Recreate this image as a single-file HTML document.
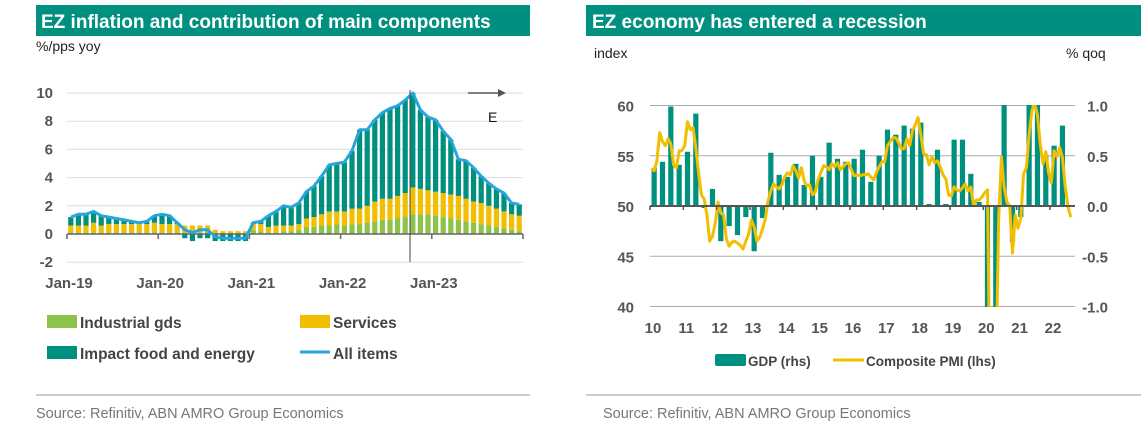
<!DOCTYPE html>
<html><head><meta charset="utf-8">
<style>
html,body{margin:0;padding:0;width:1145px;height:426px;background:#fff;overflow:hidden;font-family:"Liberation Sans",Arial,sans-serif;}
svg{position:absolute;left:0;top:0;display:block}
</style></head>
<body>
<svg id="s" width="1145" height="426">
<rect x="36" y="5" width="494" height="31" fill="#00907f"/>
<text x="41" y="28" fill="#fff" font-size="19" font-weight="bold">EZ inflation and contribution of main components</text>
<rect x="586" y="5" width="555" height="31" fill="#00907f"/>
<text x="592" y="28" fill="#fff" font-size="19" font-weight="bold">EZ economy has entered a recession</text>
<text x="36" y="51" font-size="14" fill="#222">%/pps yoy</text>
<text x="594" y="58" font-size="14" fill="#222">index</text>
<text x="1066" y="58" font-size="14" fill="#222">% qoq</text>
<line x1="36" y1="395" x2="530" y2="395" stroke="#bbb" stroke-width="1.5"/>
<line x1="586" y1="395" x2="1141" y2="395" stroke="#bbb" stroke-width="1.5"/>
<text x="36" y="418" font-size="14.5" fill="#777">Source: Refinitiv, ABN AMRO Group Economics</text>
<text x="603" y="418" font-size="14.5" fill="#777">Source:  Refinitiv, ABN AMRO Group Economics</text>
<clipPath id="rc"><rect x="645" y="105" width="435" height="202"/></clipPath>
<g id="L"></g><g id="R"></g>
</svg>
<script>
// ---- Left chart data ----
const total=[1.2,1.4,1.4,1.6,1.3,1.2,1.1,1.0,0.9,0.8,0.9,1.3, 1.4,1.3,0.8,0.3,0.1,0.3,0.3,-0.2,-0.3,-0.3,-0.3,-0.3, 0.8,0.9,1.3,1.6,2.0,1.9,2.2,3.0,3.4,4.1,4.9,5.0, 5.1,5.9,7.4,7.4,8.1,8.6,8.9,9.1,9.5,10.0,8.8,8.3, 8.1,7.3,6.7,5.3,5.2,4.7,4.1,3.6,3.2,2.9,2.2,2.1];
const indGoods=[0.1,0.1,0.1,0.1,0.1,0.1,0.1,0.1,0.1,0.1,0.1,0.1, 0.1,0.1,0.1,0.1,0.1,0.1,0.2,0.0,0.0,0.0,0.0,0.0, 0.3,0.2,0.1,0.1,0.2,0.2,0.3,0.5,0.5,0.6,0.6,0.7, 0.6,0.7,0.7,0.8,0.9,1.0,1.0,1.1,1.2,1.4,1.4,1.4, 1.3,1.2,1.1,1.0,0.9,0.8,0.7,0.6,0.5,0.4,0.3,0.2];
const services=[0.5,0.5,0.5,0.7,0.5,0.6,0.6,0.6,0.6,0.6,0.6,0.7, 0.6,0.6,0.6,0.5,0.5,0.5,0.4,0.3,0.2,0.2,0.2,0.2, 0.4,0.5,0.4,0.5,0.4,0.4,0.4,0.6,0.7,0.8,1.0,0.9, 1.0,1.1,1.1,1.2,1.4,1.5,1.5,1.6,1.7,1.9,1.8,1.7, 1.7,1.7,1.7,1.7,1.6,1.5,1.5,1.4,1.3,1.2,1.1,1.1];
const leftTicks=[10,8,6,4,2,0,-2];
const leftXLabels=["Jan-19","Jan-20","Jan-21","Jan-22","Jan-23"];
// ---- Right chart data ----
const gdp=[0.38,0.44,0.99,0.41, 0.54,0.92,-0.02,0.17, -0.35,-0.2,-0.29,-0.11, -0.45,-0.12,0.53,0.31, 0.29,0.42,0.21,0.5, 0.29,0.63,0.47,0.44, 0.47,0.56,0.24,0.5, 0.76,0.71,0.8,0.77, 0.83,0.02,0.56,0.02, 0.66,0.66,0.32,0.04, -3.5,-11.6,12.4,-0.36, -0.11,2.1,2.2,0.5, 0.6,0.8];
const pmi=[53.7,53.5,54.5,57.3,56.4,56.0,56.7,56.2,54.1,53.8,55.5,55.5, 56.0,58.4,57.6,57.8,55.8,53.3,51.1,50.7,49.1,46.5,47.0,48.3, 50.4,49.3,49.1,46.7,46.0,46.4,46.5,46.3,46.1,45.7,46.5,47.2, 48.6,47.9,46.5,46.9,47.7,48.7,50.5,51.5,52.2,51.9,51.7,52.1, 52.9,53.3,53.1,54.0,53.5,52.8,53.8,52.5,52.0,52.1,51.1,51.4, 52.6,53.3,54.0,53.9,53.6,54.2,53.9,54.3,53.6,53.9,54.2,54.3, 53.6,53.0,53.1,53.0,53.1,53.1,53.2,52.9,52.6,53.3,53.9,54.4, 54.4,56.0,56.4,56.8,56.8,56.3,55.7,55.7,56.7,56.0,57.5,58.1, 58.8,57.1,55.2,55.1,54.1,54.9,54.3,54.5,53.9,53.1,52.7,51.1, 51.0,51.9,51.6,51.5,51.8,52.2,51.5,51.9,50.1,50.6,50.6,50.9, 51.3,51.6,29.7,13.6,31.9,48.5,54.9,51.9,50.4,50.0,45.3,49.1, 47.8,48.8,53.2,53.8,57.1,59.5,60.2,59.0,56.2,54.2,55.4,53.3, 52.3,55.5,54.9,55.8,54.8,52.0,49.9,48.9];
const rightLeftTicks=[60,55,50,45,40];
const rightRightTicks=["1.0","0.5","0.0","-0.5","-1.0"];
const rightXLabels=["10","11","12","13","14","15","16","17","18","19","20","21","22"];

const NS="http://www.w3.org/2000/svg";
function mk(p,tag,a,txt){const e=document.createElementNS(NS,tag);for(const k in a)e.setAttribute(k,a[k]);if(txt!=null)e.textContent=txt;p.appendChild(e);return e;}
const TEAL="#00907f",YEL="#f2bf00",GRN="#8cc34a",BLUE="#27a6dc",GREY="#555";

// Left chart
const L=document.getElementById('L');
const lx0=67,lx1=523,mW=(lx1-lx0)/60;
const ly=v=>234-v*14.1;
const lxc=i=>lx0+(i+0.5)*mW;
leftTicks.forEach(t=>{
  if(t!==0){const g=mk(L,'line',{x1:lx0,x2:lx1,y1:ly(t),y2:ly(t),stroke:"#ddd","stroke-width":1});
  
  }
  const tx=mk(L,'text',{x:53,y:ly(t)+5,"text-anchor":"end","font-size":15,"font-weight":"bold",fill:GREY},String(t));
  
  
});
for(let i=0;i<total.length;i++){
  const fe=total[i]-indGoods[i]-services[i];
  const x=lxc(i)-2.6,w=5.2;
  let base=0;
  const g=mk(L,'rect',{x:x,y:ly(indGoods[i]),width:w,height:indGoods[i]*14.1,fill:GRN});
  
  
  base=indGoods[i];
  const s=mk(L,'rect',{x:x,y:ly(base+services[i]),width:w,height:services[i]*14.1,fill:YEL});
  
  
  base+=services[i];
  let f;
  if(fe>=0) f=mk(L,'rect',{x:x,y:ly(base+fe),width:w,height:fe*14.1,fill:TEAL});
  else f=mk(L,'rect',{x:x,y:ly(0),width:w,height:-fe*14.1,fill:TEAL});
  
  
}
const ax=mk(L,'line',{x1:lx0,x2:lx1,y1:ly(0),y2:ly(0),stroke:"#666","stroke-width":1.5});


for(let k=0;k<=5;k++){const xx=lx0+k*12*mW;const t=mk(L,'line',{x1:xx,x2:xx,y1:ly(0),y2:ly(0)+5,stroke:"#666","stroke-width":1.5});
  
  }
leftXLabels.forEach((lb,k)=>{const t=mk(L,'text',{x:lx0+k*12*mW+2,y:288,"text-anchor":"middle","font-size":15,"font-weight":"bold",fill:GREY},lb);
  
  });
const pts=total.map((v,i)=>lxc(i).toFixed(1)+","+ly(v).toFixed(1)).join(" ");
const pl=mk(L,'polyline',{points:pts,fill:"none",stroke:BLUE,"stroke-width":3,"stroke-linejoin":"round"});


const vl=mk(L,'line',{x1:410,x2:410,y1:90,y2:262,stroke:"#444","stroke-width":1});


const ar=mk(L,'line',{x1:468,x2:500,y1:93,y2:93,stroke:"#555","stroke-width":1.5});


mk(L,'polygon',{points:"498,89 506,93 498,97",fill:"#555"});
const et=mk(L,'text',{x:488,y:122,"font-size":14,fill:"#111"},"E");


// left legend
[[47,315,GRN,"Industrial gds"],[300,315,YEL,"Services"],[47,346,TEAL,"Impact food and energy"]].forEach(l=>{
  const r=mk(L,'rect',{x:l[0],y:l[1],width:30,height:13,fill:l[2]});
  
  
  const t=mk(L,'text',{x:l[0]+33,y:l[1]+13,"font-size":15.5,"font-weight":"bold",fill:"#444"},l[3]);
  
  
});
const ll=mk(L,'line',{x1:300,x2:330,y1:352,y2:352,stroke:BLUE,"stroke-width":3});


const lt=mk(L,'text',{x:333,y:359,"font-size":15.5,"font-weight":"bold",fill:"#444"},"All items");



// Right chart
const R=document.getElementById('R');
const rx0=650,rx1=1075,yW=33.33;
const ry=v=>206-(v-50)*10.05;
const rq=v=>206-v*100.5;
rightLeftTicks.forEach((t,k)=>{
  if(t!==50){const g=mk(R,'line',{x1:rx0,x2:rx1,y1:ry(t),y2:ry(t),stroke:"#aaa","stroke-width":1});
  
  }
  const a=mk(R,'text',{x:634,y:ry(t)+6,"text-anchor":"end","font-size":15,"font-weight":"bold",fill:GREY},String(t));
  
  
  const b=mk(R,'text',{x:1108,y:ry(t)+6,"text-anchor":"end","font-size":15,"font-weight":"bold",fill:GREY},rightRightTicks[k]);
  
  
});
const cg=mk(R,'g',{"clip-path":"url(#rc)"});
gdp.forEach((v,i)=>{
  const xc=rx0+(i+0.5)*yW/4;
  const y0=rq(0),y1=rq(v);
  const b=mk(cg,'rect',{x:xc-2.6,y:Math.min(y0,y1),width:5.2,height:Math.abs(y1-y0),fill:TEAL});
  
  
});
const ax2=mk(R,'line',{x1:rx0,x2:rx1,y1:ry(50),y2:ry(50),stroke:"#555","stroke-width":2});


rightXLabels.forEach((lb,k)=>{
  const xx=rx0+k*yW;
  const t=mk(R,'line',{x1:xx,x2:xx,y1:ry(50),y2:ry(50)+4,stroke:"#555","stroke-width":1.5});
  
  
  const l=mk(R,'text',{x:xx+3,y:333,"text-anchor":"middle","font-size":15,"font-weight":"bold",fill:GREY},lb);
  
  
});
const pp=pmi.map((v,i)=>(rx0+(i+0.5)*yW/12).toFixed(1)+","+ry(v).toFixed(1)).join(" ");
const pline=mk(cg,'polyline',{points:pp,fill:"none",stroke:YEL,"stroke-width":3,"stroke-linejoin":"round"});


const gs=mk(R,'rect',{x:715,y:354,width:31,height:12,rx:2,fill:TEAL});


const gt=mk(R,'text',{x:748,y:366,"font-size":13.5,"font-weight":"bold",fill:"#444"},"GDP (rhs)");


const ps=mk(R,'line',{x1:833,x2:864,y1:360,y2:360,stroke:YEL,"stroke-width":3});


const pt=mk(R,'text',{x:866,y:366,"font-size":13.5,"font-weight":"bold",fill:"#444"},"Composite PMI (lhs)");


</script>
</body></html>
